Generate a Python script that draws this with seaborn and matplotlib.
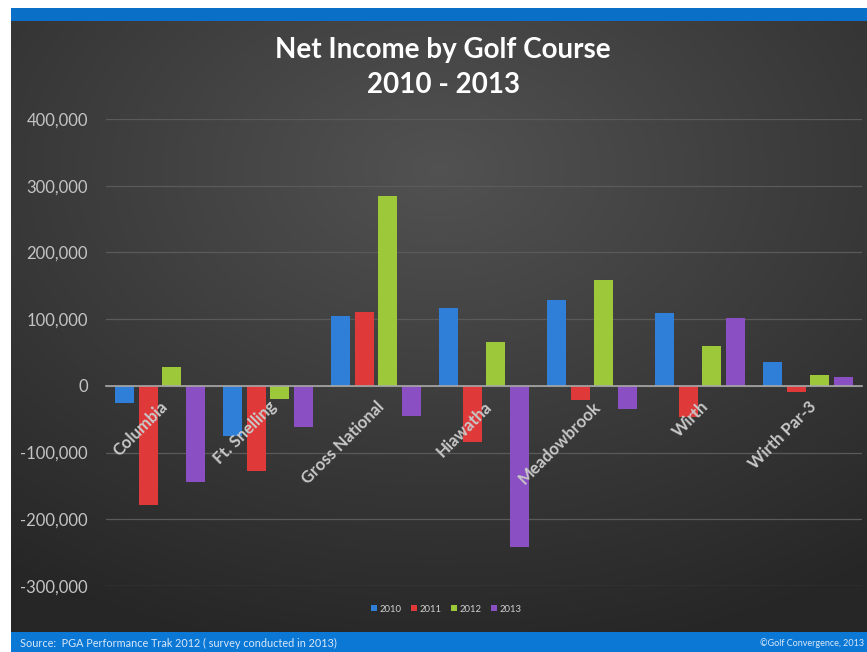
import numpy as np
import pandas as pd
import matplotlib
matplotlib.use("Agg")
import matplotlib.pyplot as plt
import seaborn as sns
from matplotlib.ticker import FuncFormatter

courses = ["Columbia", "Ft. Snelling", "Gross National", "Hiawatha",
           "Meadowbrook", "Wirth", "Wirth Par-3"]
years = ["2010", "2011", "2012", "2013"]
v2010 = [-26000, -75000, 104000, 116000, 129000, 109000, 36000]
v2011 = [-178000, -127000, 110000, -84000, -21000, -47000, -9000]
v2012 = [29000, -19000, 284000, 65000, 158000, 59000, 17000]
v2013 = [-144000, -61000, -45000, -241000, -35000, 102000, 14000]
yticks = [-300000, -200000, -100000, 0, 100000, 200000, 300000, 400000]

colors = ["#2f7fd8", "#e0393a", "#9cc83a", "#8a4fc2"]

rows = []
for yr, vals in zip(years, [v2010, v2011, v2012, v2013]):
    for c, v in zip(courses, vals):
        rows.append({"Course": c, "Year": yr, "Income": v})
df = pd.DataFrame(rows)

sns.set_style("dark")
plt.rcParams["font.family"] = ["Lato", "DejaVu Sans"]

W, H = 867, 652
fig = plt.figure(figsize=(W / 100, H / 100), dpi=100)
fig.patch.set_facecolor("white")

# background with radial gradient
bg = fig.add_axes([11 / W, 0, 1 - 11 / W, 1 - 8 / H], zorder=0)
yy, xx = np.mgrid[0:1:300j, 0:1:300j]
d = np.sqrt(((xx - 0.5) * 1.0) ** 2 + ((yy - 0.25) * 1.1) ** 2)
g = np.clip(1 - d / 0.85, 0, 1)
base = 0.15 + 0.17 * g
img = np.dstack([base, base, base])
bg.imshow(img, extent=[0, 1, 0, 1], aspect="auto", origin="upper")
bg.set_xlim(0, 1)
bg.set_ylim(0, 1)
bg.axis("off")
bg.axhspan(1 - (21 - 8) / (H - 8), 1, color="#0a6fc6", lw=0)
bg.axhspan(0, 20 / (H - 8), color="#0b78d6", lw=0)

ax = fig.add_axes([106 / W, (H - 586) / H, 756 / W, (586 - 119) / H], zorder=1)
ax.set_facecolor("none")
sns.barplot(data=df, x="Course", y="Income", hue="Year", palette=colors,
            order=courses, hue_order=years, width=0.87, gap=0.19,
            saturation=1, ax=ax, legend=True, zorder=3, linewidth=0)
ax.set_ylim(-300000, 400000)
ax.set_xlim(-0.5, 6.5)
ax.set_yticks(yticks)
ax.yaxis.set_major_formatter(FuncFormatter(lambda v, p: f"{int(v):,}"))
ax.tick_params(axis="y", colors="#c4c4c4", labelsize=12, length=0, pad=13)
ax.grid(axis="y", color="#5a5a5a", lw=0.9, zorder=0)
ax.grid(axis="x", visible=False)
for s in ["top", "right", "left"]:
    ax.spines[s].set_visible(False)
ax.spines["bottom"].set_position(("data", 0))
ax.spines["bottom"].set_color("#a8a8a8")
ax.spines["bottom"].set_linewidth(1.2)
ax.spines["bottom"].set_zorder(4)
ax.tick_params(axis="x", length=0, pad=9, colors="#c8c8c8", labelsize=12)
for lab in ax.get_xticklabels():
    lab.set_rotation(45)
    lab.set_ha("right")
    lab.set_rotation_mode("anchor")
    lab.set_fontweight("bold")
ax.xaxis.set_zorder(6)
ax.set_xlabel("")
ax.set_ylabel("")

leg = ax.legend(loc="upper center", bbox_to_anchor=(0.45, -0.022), ncol=4,
                frameon=False, fontsize=6.8, handlelength=0.6, handleheight=0.6,
                handletextpad=0.3, columnspacing=1.0, labelcolor="#d0d0d0")

fig.text(0.511, 1 - 50 / H, "Net Income by Golf Course", ha="center", va="center",
         color="white", fontsize=20, fontweight="bold")
fig.text(0.511, 1 - 85 / H, "2010 - 2013", ha="center", va="center",
         color="white", fontsize=20, fontweight="bold")
fig.text(20 / W, 1 - 643 / H, "Source:  PGA Performance Trak 2012 ( survey conducted in 2013)",
         ha="left", va="center", color="#d8e8f8", fontsize=7.8)
fig.text(1 - 3 / W, 1 - 643 / H, "©Golf Convergence, 2013",
         ha="right", va="center", color="#d8e8f8", fontsize=6.5)

fig.savefig("out.png", dpi=100, facecolor=fig.get_facecolor())
